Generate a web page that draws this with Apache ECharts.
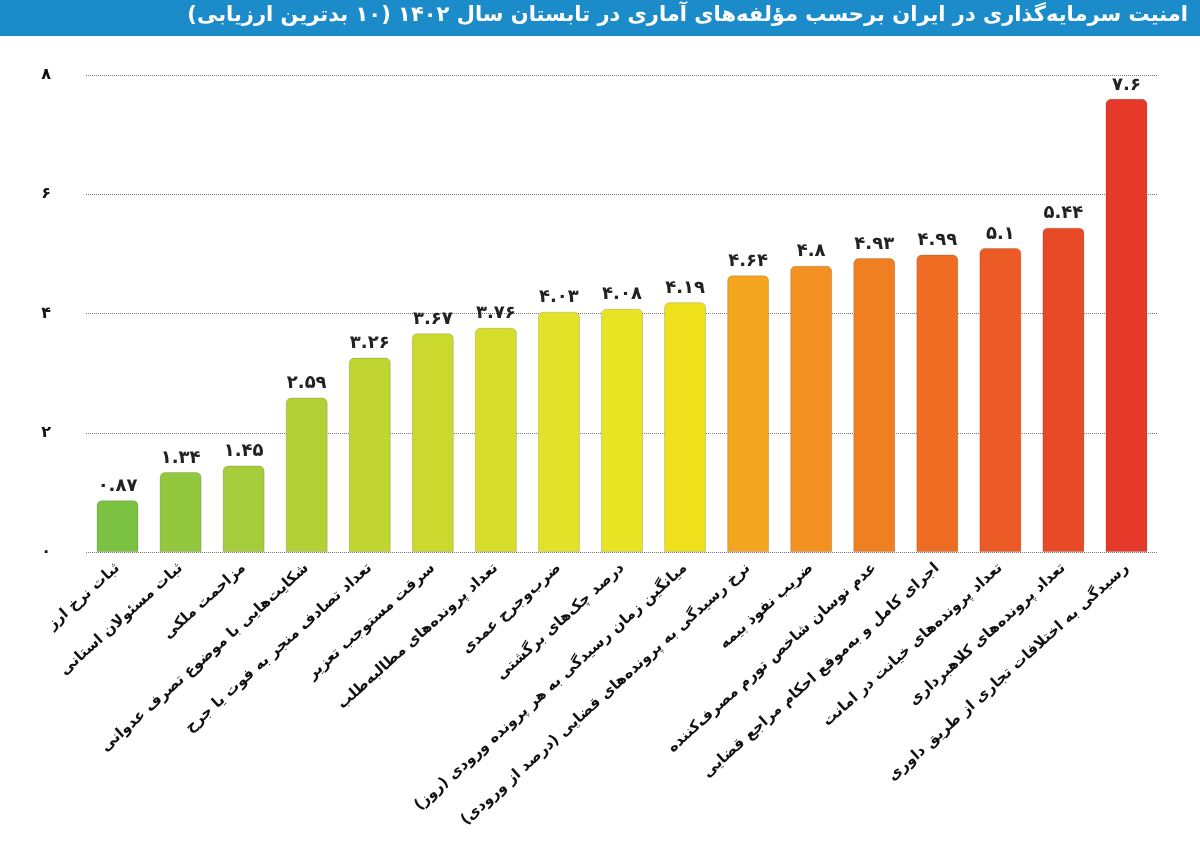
<!DOCTYPE html>
<html><head><meta charset="utf-8">
<script src="https://cdn.jsdelivr.net/npm/echarts@6/dist/echarts.min.js"></script>
<style>html,body{margin:0;padding:0;background:#fff}#c{width:1200px;height:857px}</style>
</head><body><div id="c"></div>
<script>
const titleText = 'امنیت سرمایه‌گذاری در ایران برحسب مؤلفه‌های آماری در تابستان سال ۱۴۰۲ (۱۰ بدترین ارزیابی)';
const categories = [
 'ثبات نرخ ارز','ثبات مسئولان استانی','مزاحمت ملکی','شکایت‌هایی با موضوع تصرف عدوانی',
 'تعداد تصادف منجر به فوت یا جرح','سرقت مستوجب تعزیر','تعداد پرونده‌های مطالبه‌طلب','ضرب‌وجرح عمدی',
 'درصد چک‌های برگشتی','میانگین زمان رسیدگی به هر پرونده ورودی (روز)','نرخ رسیدگی به پرونده‌های قضایی (درصد از ورودی)',
 'ضریب نفوذ بیمه','عدم نوسان شاخص تورم مصرف‌کننده','اجرای کامل و به‌موقع احکام مراجع قضایی',
 'تعداد پرونده‌های خیانت در امانت','تعداد پرونده‌های کلاهبرداری','رسیدگی به اختلافات تجاری از طریق داوری'];
const values = [0.87,1.34,1.45,2.59,3.26,3.67,3.76,4.03,4.08,4.19,4.64,4.8,4.93,4.99,5.1,5.44,7.6];
const colors = ['#7cc242','#93c83e','#a5cc3b','#b3d136','#c0d531','#cbd92e','#d6dd2b','#e2e228','#e8e424','#eee11c',
 '#f4a51f','#f39120','#f07f21','#ee6d23','#ec5b25','#e84a27','#e53a29'];
const fa = s => String(s).replace(/\d/g, d => '۰۱۲۳۴۵۶۷۸۹'[d]);
const chart = echarts.init(document.getElementById('c'));
chart.setOption({
  graphic: [
    {type:'rect', left:0, top:0, shape:{width:1200, height:36}, style:{fill:'#1c8bc9'}},
    {type:'text', right:12, top:5, style:{text:titleText, fill:'#fff', font:'bold 21px "DejaVu Sans"', textAlign:'right'}}
  ],
  grid: {left:86, right:42, top:75, bottom:305},
  xAxis: {type:'category', data:categories, axisLine:{show:false}, axisTick:{show:false},
    axisLabel:{rotate:42, interval:0, color:'#111', fontFamily:'DejaVu Sans', fontWeight:'bold', fontSize:15, margin:14}},
  yAxis: {type:'value', min:0, max:8, interval:2, axisLine:{show:false}, axisTick:{show:false},
    splitLine:{lineStyle:{type:'dotted', color:'#777'}},
    axisLabel:{formatter:v=>fa(v), color:'#111', fontWeight:'bold', fontSize:16, margin:35, fontFamily:'DejaVu Sans'}},
  series: [{type:'bar', barWidth:42,
    data: values.map((v,i)=>({value:v, itemStyle:{color:colors[i], borderRadius:[5,5,0,0], borderColor:'rgba(0,0,0,0.15)', borderWidth:1}})),
    label:{show:true, position:'top', formatter:p=>fa(p.value), color:'#222', fontWeight:'bold', fontSize:18, fontFamily:'DejaVu Sans'}}]
});
</script></body></html>
